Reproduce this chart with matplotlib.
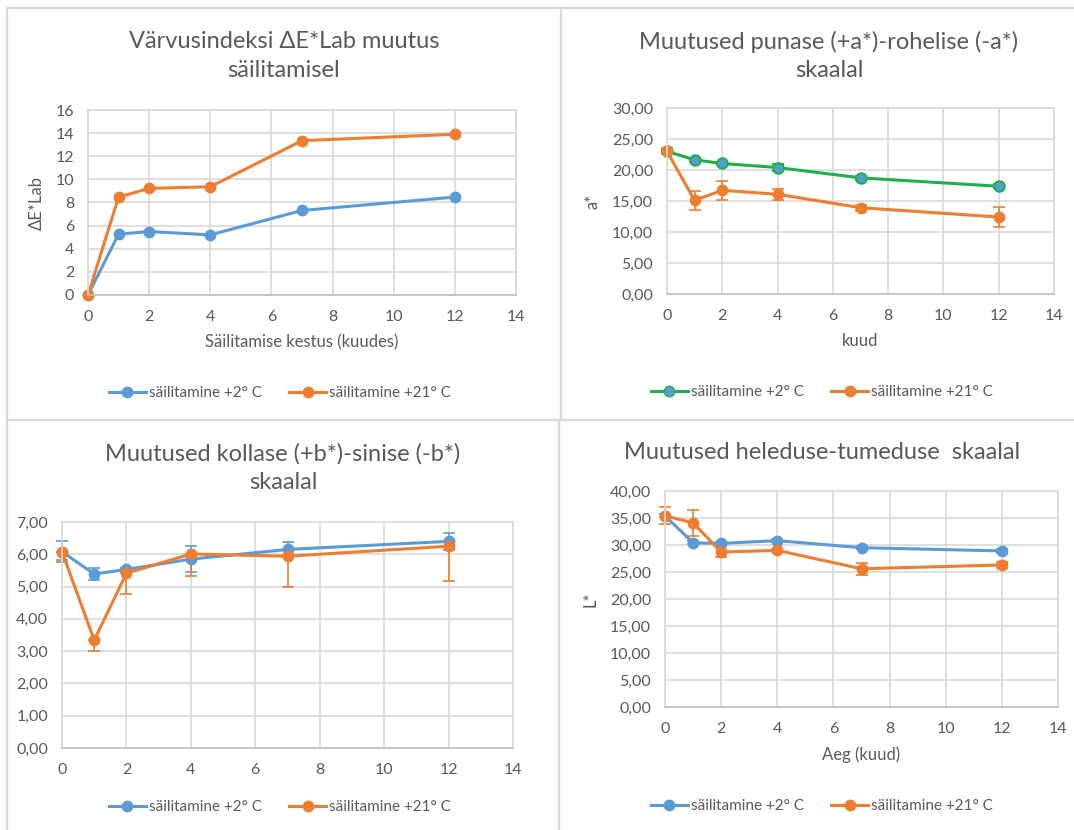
import matplotlib
matplotlib.use("Agg")
import matplotlib.pyplot as plt
from matplotlib.lines import Line2D
from matplotlib.ticker import FuncFormatter, MultipleLocator

plt.rcParams['font.family'] = ['Lato', 'DejaVu Sans']

# ---------------- data ----------------
months = [0, 1, 2, 4, 7, 12]
series_names = ["säilitamine +2° C", "säilitamine +21° C"]

dE_2 = [0, 5.26, 5.49, 5.20, 7.31, 8.47]
dE_21 = [0, 8.47, 9.22, 9.36, 13.35, 13.90]

a_2 = [23.0, 21.64, 21.05, 20.40, 18.73, 17.38]
a_2_err = [0.3, 0.3, 0.3, 0.6, 0.3, 0.3]
a_21 = [23.0, 15.10, 16.73, 16.08, 13.92, 12.41]
a_21_err = [0.5, 1.55, 1.55, 0.9, 0.5, 1.6]

b_2 = [6.08, 5.39, 5.53, 5.85, 6.15, 6.40]
b_2_err = [0.33, 0.18, 0.05, 0.40, 0.23, 0.26]
b_21 = [6.08, 3.34, 5.41, 6.01, 5.94, 6.25]
b_21_err = [0.26, 0.33, 0.65, 0.69, 0.95, 1.08]

L_2 = [35.4, 30.4, 30.3, 30.8, 29.5, 28.9]
L_2_err = [0.3, 0.3, 0.3, 0.3, 0.3, 0.3]
L_21 = [35.4, 34.1, 28.7, 29.0, 25.6, 26.3]
L_21_err = [1.6, 2.35, 1.0, 0.3, 1.1, 0.5]

titles = ["Värvusindeksi ΔE*Lab muutus\nsäilitamisel",
          "Muutused punase (+a*)-rohelise (-a*)\nskaalal",
          "Muutused kollase (+b*)-sinise (-b*)\nskaalal",
          "Muutused heleduse-tumeduse  skaalal"]

# ---------------- style ----------------
W, H = 1074, 830
BLUE = "#5B9BD5"
ORANGE = "#ED7D31"
GREEN = "#1FAF4B"
GRID = "#D9D9D9"
TXT = "#595959"

fig = plt.figure(figsize=(W / 100, H / 100), dpi=100)
fig.patch.set_facecolor("white")


def box(x0, y0, x1, y1):
    return [x0 / W, 1 - y1 / H, (x1 - x0) / W, (y1 - y0) / H]


def fx(x):
    return x / W


def fy(y):
    return 1 - y / H


# panel borders
for xs, ys in [([7, 7], [8, 830]), ([7, 1074], [8, 8]), ([561, 561], [8, 420]),
               ([559, 559], [420, 830]), ([7, 1074], [420, 420])]:
    fig.add_artist(Line2D([fx(v) for v in xs], [fy(v) for v in ys],
                          color="#D9D9D9", lw=1.6))

comma = FuncFormatter(lambda v, p: f"{v:.2f}".replace(".", ","))


def style_axes(ax, ymax, ystep, fmt=None):
    ax.set_xlim(0, 14)
    ax.set_ylim(0, ymax)
    ax.xaxis.set_major_locator(MultipleLocator(2))
    ax.yaxis.set_major_locator(MultipleLocator(ystep))
    if fmt is not None:
        ax.yaxis.set_major_formatter(fmt)
    ax.grid(True, color=GRID, lw=1.2)
    ax.set_axisbelow(True)
    for s in ax.spines.values():
        s.set_color(GRID)
        s.set_linewidth(1.2)
    ax.spines["bottom"].set_color("#BFBFBF")
    ax.tick_params(length=0, labelsize=11.5, colors=TXT)
    ax.tick_params(axis="x", pad=11)
    ax.tick_params(axis="y", pad=10)


def legend(handles, cx, cy):
    fig.legend(handles=handles, labels=series_names, loc="center",
               bbox_to_anchor=(fx(cx), fy(cy)), ncol=2, frameon=False,
               fontsize=11, labelcolor=TXT, handlelength=2.4,
               columnspacing=1.8, handletextpad=0.2)


def h(color, face=None, edge=None):
    return Line2D([0], [0], color=color, lw=2.2, marker="o", markersize=7.5,
                  markerfacecolor=face or color, markeredgecolor=edge or color)


lw = 2.2
ms = 7.5
eb = dict(elinewidth=1.2, capsize=4, capthick=1.2)


def unclip(container):
    for art in container.get_children():
        art.set_clip_on(False)


# ---------- panel 1 ----------
ax1 = fig.add_axes(box(88, 110, 516, 295))
style_axes(ax1, 16, 2)
for l in ax1.plot(months, dE_2, color=BLUE, lw=lw, marker="o", ms=ms):
    l.set_clip_on(False)
for l in ax1.plot(months, dE_21, color=ORANGE, lw=lw, marker="o", ms=ms):
    l.set_clip_on(False)
ax1.set_xlabel("Säilitamise kestus (kuudes)", fontsize=12, color=TXT, labelpad=7)
ax1.set_ylabel("ΔE*Lab", fontsize=12, color=TXT, labelpad=8)
fig.text(fx(284), fy(56), titles[0], ha="center", va="center", fontsize=17,
         color=TXT, linespacing=1.45)
legend([h(BLUE), h(ORANGE)], 280, 393)

# ---------- panel 2 ----------
ax2 = fig.add_axes(box(667, 108, 1054, 294))
style_axes(ax2, 30, 5, comma)
c = ax2.errorbar(months, a_2, yerr=a_2_err, color=GREEN, lw=lw, marker="o", ms=ms,
                 mfc=BLUE, mec=GREEN, mew=1.5, ecolor=GREEN, **eb)
unclip(c)
c = ax2.errorbar(months, a_21, yerr=a_21_err, color=ORANGE, lw=lw, marker="o",
                 ms=ms, ecolor=ORANGE, **eb)
unclip(c)
ax2.set_xlabel("kuud", fontsize=12, color=TXT, labelpad=7)
ax2.set_ylabel("a*", fontsize=12, color=TXT, labelpad=8)
fig.text(fx(829), fy(56), titles[1], ha="center", va="center", fontsize=17,
         color=TXT, linespacing=1.45)
legend([h(GREEN, BLUE, GREEN), h(ORANGE)], 822, 392)

# ---------- panel 3 ----------
ax3 = fig.add_axes(box(62, 522, 513, 748))
style_axes(ax3, 7, 1, comma)
c = ax3.errorbar(months, b_2, yerr=b_2_err, color=BLUE, lw=lw, marker="o", ms=ms,
                 ecolor=BLUE, **eb)
unclip(c)
c = ax3.errorbar(months, b_21, yerr=[b_21_err, [0] * len(b_21_err)], color=ORANGE,
                 lw=lw, marker="o", ms=ms, ecolor=ORANGE, **eb)
unclip(c)
fig.text(fx(283), fy(468), titles[2], ha="center", va="center", fontsize=17,
         color=TXT, linespacing=1.45)
legend([h(BLUE), h(ORANGE)], 280, 807)

# ---------- panel 4 ----------
ax4 = fig.add_axes(box(665, 491, 1058, 707))
style_axes(ax4, 40, 5, comma)
c = ax4.errorbar(months, L_2, yerr=L_2_err, color=BLUE, lw=lw, marker="o", ms=ms,
                 ecolor=BLUE, **eb)
unclip(c)
c = ax4.errorbar(months, L_21, yerr=L_21_err, color=ORANGE, lw=lw, marker="o",
                 ms=ms, ecolor=ORANGE, **eb)
unclip(c)
ax4.set_xlabel("Aeg (kuud)", fontsize=12, color=TXT, labelpad=7)
ax4.set_ylabel("L*", fontsize=12, color=TXT, labelpad=8)
fig.text(fx(822), fy(452), titles[3], ha="center", va="center", fontsize=17,
         color=TXT)
legend([h(BLUE), h(ORANGE)], 822, 806)

fig.savefig("out.png", dpi=100, facecolor="white")
